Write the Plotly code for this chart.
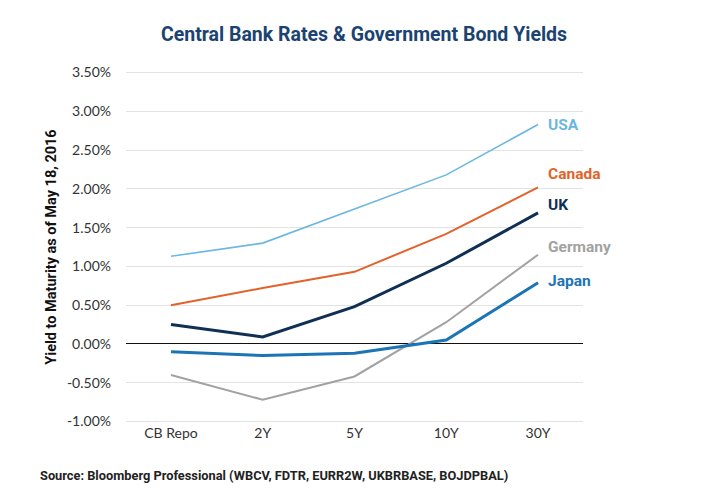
import plotly.graph_objects as go

# tenor buckets along the x axis
tenors = ["CB Repo", "2Y", "5Y", "10Y", "30Y"]

# yields in percent
usa = [1.13, 1.30, 1.74, 2.18, 2.83]
canada = [0.50, 0.72, 0.93, 1.42, 2.02]
uk = [0.25, 0.09, 0.48, 1.04, 1.69]
germany = [-0.40, -0.72, -0.42, 0.28, 1.15]
japan = [-0.10, -0.15, -0.12, 0.05, 0.79]

y_ticks = [-1.0, -0.5, 0.0, 0.5, 1.0, 1.5, 2.0, 2.5, 3.0, 3.5]
y_tick_text = ["%.2f%%" % v for v in y_ticks]

# name, values, colour, width, label nudge (px)
series = [
    ("USA", usa, "#6cb7e0", 1.6, 0),
    ("Canada", canada, "#e2622a", 2.0, 13),
    ("UK", uk, "#0f2f55", 3.0, 8),
    ("Germany", germany, "#a2a2a2", 2.0, 8),
    ("Japan", japan, "#1b74b6", 3.0, 2),
]

fig = go.Figure()

for name, vals, color, width, nudge in series:
    fig.add_trace(go.Scatter(
        x=tenors,
        y=vals,
        mode="lines",
        name=name,
        line=dict(color=color, width=width),
        hoverinfo="skip",
    ))
    # label sits just right of the 30Y end point
    fig.add_annotation(
        x=tenors[-1], y=vals[-1],
        text="<b>" + name + "</b>",
        showarrow=False,
        xanchor="left", yanchor="middle",
        xshift=8, yshift=nudge,
        font=dict(family="Roboto", size=15.5, color=color),
    )

fig.update_xaxes(
    type="category",
    range=[-0.49, 4.49],
    showgrid=False,
    showline=False,
    zeroline=False,
    ticks="",
    tickfont=dict(family="Lato", size=14, color="#333333"),
)

fig.update_yaxes(
    range=[-1.02, 3.52],
    tickmode="array",
    tickvals=y_ticks,
    ticktext=y_tick_text,
    showgrid=True,
    gridcolor="#e3e3e3",
    gridwidth=1.2,
    zeroline=True,
    zerolinecolor="#111111",
    zerolinewidth=1.2,
    showline=False,
    ticklabelstandoff=14,
    tickfont=dict(family="Lato", size=14, color="#333333"),
    title=dict(
        text="<b>Yield to Maturity as of May 18, 2016</b>",
        font=dict(family="Roboto", size=14.5, color="#111111"),
        standoff=6,
    ),
)

# page body adds 8px, so the figure is a bit smaller than the window
fig.update_layout(
    width=712,
    height=492,
    showlegend=False,
    plot_bgcolor="white",
    paper_bgcolor="white",
    margin=dict(l=118, r=137, t=63, b=77),
    title=dict(
        text="<b>Central Bank Rates & Government Bond Yields</b>",
        font=dict(family="Roboto", size=19.5, color="#1a4372"),
        x=0.5, xanchor="center",
        y=0.946, yanchor="middle",
    ),
)

fig.add_annotation(
    xref="paper", yref="paper",
    x=-0.193, y=-0.15,
    xanchor="left", yanchor="middle",
    text="<b>Source: Bloomberg Professional (WBCV, FDTR, EURR2W, UKBRBASE, BOJDPBAL)</b>",
    showarrow=False,
    font=dict(family="Roboto", size=12.8, color="#222222"),
)

fig.write_html("out.html")
